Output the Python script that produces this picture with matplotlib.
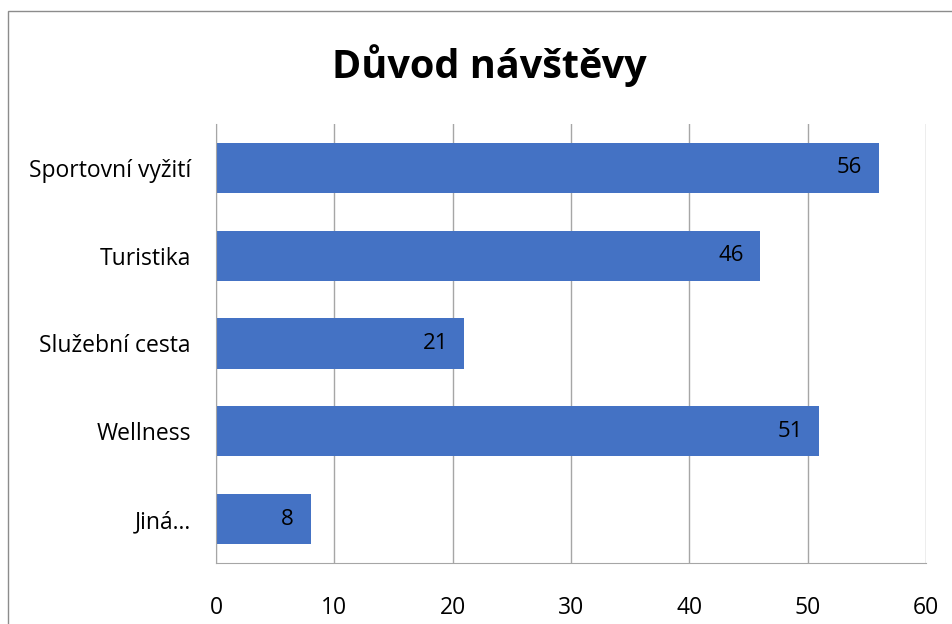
import matplotlib.pyplot as plt
from matplotlib.patches import Rectangle

categories = ['Sportovní vyžití', 'Turistika', 'Služební cesta', 'Wellness', 'Jiná…']
values = [56, 46, 21, 51, 8]
xticks = [0, 10, 20, 30, 40, 50, 60]

plt.rcParams['font.family'] = ['Open Sans', 'DejaVu Sans']

fig = plt.figure(figsize=(9.53, 6.24), dpi=100)
ax = fig.add_axes([216/953, 1 - 563/624, 710/953, 439/624])

# categories from top to bottom
ypos = list(range(len(categories)))[::-1]
bars = ax.barh(ypos, values, height=0.57, color='#4472C4')

for y, v in zip(ypos, values):
    ax.text(v - 1.4, y, str(v), ha='right', va='center', fontsize=16, color='black')

ax.set_xlim(0, 60)
ax.set_ylim(-0.5, 4.5)
ax.set_xticks(xticks)
ax.set_yticks(ypos)
ax.set_yticklabels(categories)
ax.tick_params(length=0, labelsize=16.5)
ax.tick_params(axis='x', pad=24)
ax.tick_params(axis='y', pad=18)
ax.grid(axis='x', color='#A6A6A6', linewidth=1)
ax.set_axisbelow(True)
for s in ['top', 'right']:
    ax.spines[s].set_visible(False)
for s in ['left', 'bottom']:
    ax.spines[s].set_color('#A6A6A6')

fig.text(489/953, 1 - 66/624, 'Důvod návštěvy', ha='center', va='center',
         fontsize=28.5, fontweight='bold')

# chart border
fig.patches.append(Rectangle((8/953, -0.1), 1.2, 1 - 11/624 + 0.1, transform=fig.transFigure,
                             fill=False, edgecolor='#8C8C8C', linewidth=1))

fig.savefig('out.png', dpi=100)
